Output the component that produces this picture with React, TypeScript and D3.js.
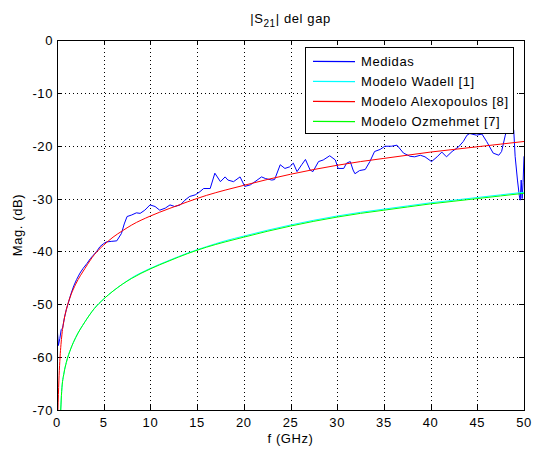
import React from "react";
import * as d3 from "d3";

// Frequency axis ticks (GHz) and magnitude ticks (dB)
const xTicks = [0, 5, 10, 15, 20, 25, 30, 35, 40, 45, 50];
const yTicks = [0, -10, -20, -30, -40, -50, -60, -70];

// Measured |S21| (Medidas)
const measFreq = [
  0.05, 0.15, 0.3, 0.45, 0.6, 0.8, 1.0, 1.2, 1.5, 1.8, 2.1, 2.46, 2.8, 3.2, 3.6, 3.9, 4.25, 4.6, 5.0, 5.3,
  5.8, 6.4, 6.9, 7.2, 7.5, 8.0, 8.5, 8.9, 9.4, 9.96, 10.5, 11.0, 11.6, 12.1, 12.6, 13.2, 13.7, 14.2, 14.8, 15.3,
  15.7, 16.4, 16.9, 17.5, 18.0, 18.3, 18.9, 19.6, 20.1, 20.7, 21.2, 21.9, 22.3, 23.0, 23.3, 23.9, 24.4, 24.9, 25.3, 25.7,
  26.2, 26.6, 27.1, 27.4, 28.0, 28.5, 29.2, 29.8, 30.1, 30.7, 31.0, 31.4, 31.7, 31.9, 32.4, 33.0, 33.5, 34.0, 34.6, 35.1,
  35.8, 36.4, 37.1, 37.8, 38.3, 38.9, 39.4, 40.1, 40.7, 41.2, 41.7, 42.3, 43.0, 43.5, 43.9, 44.2, 44.9, 45.5, 46.0, 46.7,
  47.3, 47.6, 48.0, 48.3, 48.9, 49.05, 49.3, 49.5, 49.6, 49.7, 49.8, 49.9, 50.0,
];
const measDb = [
  -55.2, -57.8, -56.5, -54.8, -54.5, -52.5, -51.0, -49.8, -48.0, -46.5, -45.3, -44.1, -43.2, -42.3, -41.3, -40.7, -40.0, -39.1, -38.5, -38.2,
  -38.1, -38.0, -36.6, -34.8, -33.4, -33.1, -32.7, -32.8, -32.2, -31.2, -31.5, -32.2, -31.8, -31.2, -31.5, -31.2, -30.3, -29.6, -29.3, -28.7,
  -28.1, -28.1, -25.2, -26.8, -25.9, -26.5, -26.8, -25.9, -27.7, -27.4, -26.8, -25.9, -26.2, -26.5, -26.4, -23.6, -24.3, -24.0, -23.3, -24.9,
  -23.6, -22.6, -24.6, -24.9, -23.0, -22.7, -21.9, -22.7, -24.3, -24.3, -23.3, -23.0, -24.6, -25.3, -24.7, -24.5, -23.0, -21.1, -20.7, -20.1,
  -20.1, -19.9, -21.4, -22.0, -22.1, -21.8, -22.1, -23.0, -22.1, -21.2, -22.1, -21.1, -20.2, -19.2, -18.0, -17.7, -18.0, -17.8, -19.2, -21.4,
  -21.8, -21.1, -18.0, -16.3, -17.0, -22.0, -26.5, -29.5, -30.3, -26.5, -30.0, -27.0, -22.0,
];

// Modelo Alexopoulos [8]
const alexFreq = [
  0.1, 0.2, 0.3, 0.5, 0.75, 1, 1.5, 2, 3, 4, 5, 6, 7, 8, 10, 12, 14, 16, 18, 20,
  22.5, 25, 27.5, 30, 32.5, 35, 37.5, 40, 42.5, 45, 47.5, 50,
];
const alexDb = [
  -70, -64.5, -60.8, -56.2, -53, -51, -48.2, -46.2, -43.2, -40.6, -38.8, -37.3, -36.1, -35.0, -33.3, -31.9, -30.6, -29.4, -28.4, -27.5,
  -26.4, -25.4, -24.5, -23.7, -23.0, -22.4, -21.8, -21.2, -20.7, -20.2, -19.7, -19.2,
];

// Modelo Ozmehmet [7] and Modelo Wadell [1]
const ozFreq = [
  0.4, 0.5, 0.75, 1, 1.5, 2, 3, 4, 5, 6, 7, 8, 10, 12, 14, 16, 18, 20,
  22.5, 25, 27.5, 30, 32.5, 35, 37.5, 40, 42.5, 45, 47.5, 50,
];
const ozDb = [
  -70, -66.5, -63, -61, -58.3, -56.3, -53.3, -50.8, -49.0, -47.5, -46.2, -45.1, -43.3, -41.8, -40.4, -39.2, -38.2, -37.3,
  -36.2, -35.2, -34.3, -33.5, -32.8, -32.2, -31.6, -31.0, -30.5, -30.0, -29.5, -29.0,
];
const wadellDb = [
  -70, -66.5, -63, -61, -58.3, -56.3, -53.3, -50.8, -49.0, -47.5, -46.2, -45.0, -43.2, -41.7, -40.3, -39.1, -38.0, -37.1,
  -36.0, -35.0, -34.1, -33.3, -32.6, -32.0, -31.4, -30.8, -30.3, -29.8, -29.3, -28.8,
];

const legendLabels = ["Medidas", "Modelo Wadell [1]", "Modelo Alexopoulos [8]", "Modelo Ozmehmet [7]"];
const legendColors = ["#0000ff", "#00ffff", "#ff0000", "#00ff00"];

const W = 534;
const H = 450;
const FONT = "'Liberation Sans', Arial, Helvetica, sans-serif";

export default function App() {
  const x = d3.scaleLinear().domain([0, 50]).range([57, 524]);
  const y = d3.scaleLinear().domain([-70, 0]).range([410, 40]);
  const [x0, x1] = x.range();
  const [y0, y1] = y.range();

  const toPts = (fs: number[], vs: number[]) => fs.map((f, i) => [f, vs[i]] as [number, number]);
  const smooth = d3
    .line<[number, number]>()
    .x((d) => x(d[0]))
    .y((d) => y(d[1]))
    .curve(d3.curveMonotoneX);
  const straight = d3
    .line<[number, number]>()
    .x((d) => x(d[0]))
    .y((d) => y(d[1]));

  const series = [
    { d: straight(toPts(measFreq, measDb)), c: legendColors[0] },
    { d: smooth(toPts(ozFreq, wadellDb)), c: legendColors[1] },
    { d: smooth(toPts(alexFreq, alexDb)), c: legendColors[2] },
    { d: smooth(toPts(ozFreq, ozDb)), c: legendColors[3] },
  ];

  const fmt = (v: number) => (v < 0 ? "-" + Math.abs(v) : String(v));
  const px = (v: number) => Math.round(v) + 0.5;

  const legX = 305;
  const legY = 47;
  const legW = 208;
  const legRow = 20;

  return (
    <svg
      width={W}
      height={H}
      style={{ position: "absolute", left: 0, top: 0, background: "#fff" }}
      fontFamily={FONT}
      fontSize={13}
      letterSpacing={0.6}
    >
      <defs>
        <clipPath id="plotArea">
          <rect x={x0} y={y1} width={x1 - x0} height={y0 - y1} />
        </clipPath>
      </defs>
      <rect x={0} y={0} width={W} height={H} fill="#fff" />

      {/* grid */}
      <g stroke="#000" strokeWidth={1} strokeDasharray="1,3" shapeRendering="crispEdges">
        {xTicks.slice(1, -1).map((t) => (
          <line key={"gx" + t} x1={px(x(t))} x2={px(x(t))} y1={y1} y2={y0} />
        ))}
        {yTicks.slice(1, -1).map((t) => (
          <line key={"gy" + t} x1={x0} x2={x1} y1={px(y(t))} y2={px(y(t))} />
        ))}
      </g>

      {/* ticks on all four sides, pointing inward */}
      <g stroke="#000" strokeWidth={1} shapeRendering="crispEdges">
        {xTicks.map((t) => (
          <g key={"tx" + t}>
            <line x1={px(x(t))} x2={px(x(t))} y1={y0} y2={y0 - 5} />
            <line x1={px(x(t))} x2={px(x(t))} y1={y1} y2={y1 + 5} />
          </g>
        ))}
        {yTicks.map((t) => (
          <g key={"ty" + t}>
            <line x1={x0} x2={x0 + 5} y1={px(y(t))} y2={px(y(t))} />
            <line x1={x1} x2={x1 - 5} y1={px(y(t))} y2={px(y(t))} />
          </g>
        ))}
      </g>

      {/* data */}
      <g clipPath="url(#plotArea)" fill="none" strokeWidth={1}>
        {series.map((s, i) => (
          <path key={i} d={s.d || ""} stroke={s.c} />
        ))}
      </g>

      {/* axes box */}
      <rect
        x={px(x0)}
        y={px(y1)}
        width={Math.round(x1 - x0)}
        height={Math.round(y0 - y1)}
        fill="none"
        stroke="#000"
        shapeRendering="crispEdges"
      />

      {/* tick labels */}
      <g fill="#000">
        {xTicks.map((t) => (
          <text key={"lx" + t} x={x(t)} y={y0 + 17} textAnchor="middle">
            {fmt(t)}
          </text>
        ))}
        {yTicks.map((t) => (
          <text key={"ly" + t} x={x0 - 4} y={y(t) + 5} textAnchor="end">
            {fmt(t)}
          </text>
        ))}
      </g>

      {/* axis labels and title */}
      <text x={(x0 + x1) / 2} y={y0 + 33} textAnchor="middle">
        f (GHz)
      </text>
      <text transform={`translate(22, ${(y0 + y1) / 2}) rotate(-90)`} textAnchor="middle">
        Mag. (dB)
      </text>
      <text x={(x0 + x1) / 2} y={23} textAnchor="middle">
        |S
        <tspan fontSize={10} dy={4}>
          21
        </tspan>
        <tspan dy={-4}>| del gap</tspan>
      </text>

      {/* legend */}
      <g>
        <rect
          x={px(legX)}
          y={px(legY)}
          width={legW}
          height={legRow * 4 + 6}
          fill="#fff"
          stroke="#000"
          shapeRendering="crispEdges"
        />
        {legendLabels.map((lab, i) => {
          const cy = legY + 14 + i * legRow;
          return (
            <g key={lab}>
              <line
                x1={legX + 8}
                x2={legX + 50}
                y1={cy + 0.3}
                y2={cy + 0.7}
                stroke={legendColors[i]}
                strokeWidth={1.2}
              />
              <text x={legX + 56} y={cy + 5}>
                {lab}
              </text>
            </g>
          );
        })}
      </g>
    </svg>
  );
}
